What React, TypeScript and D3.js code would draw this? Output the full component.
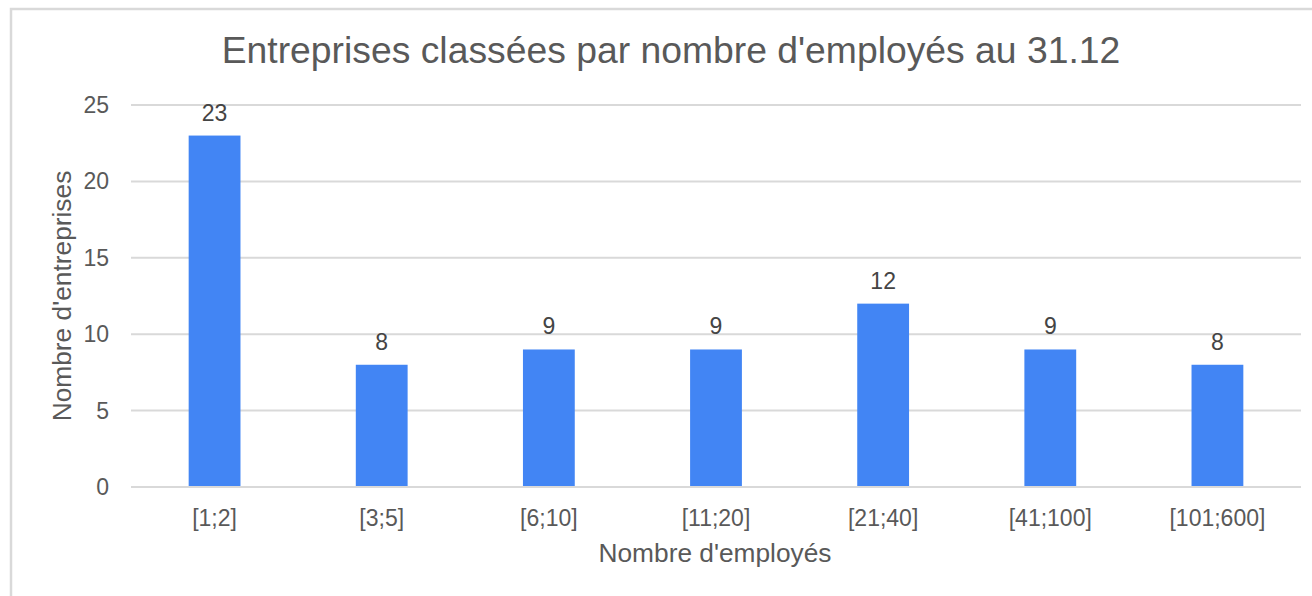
import React from "react";
import * as d3 from "d3";

const categories = ["[1;2]", "[3;5]", "[6;10]", "[11;20]", "[21;40]", "[41;100]", "[101;600]"];
const values = [23, 8, 9, 9, 12, 9, 8];
const yTicks = [0, 5, 10, 15, 20, 25];
const title = "Entreprises classées par nombre d'employés au 31.12";
const xTitle = "Nombre d'employés";
const yTitle = "Nombre d'entreprises";

const W = 1312;
const H = 596;
const plot = { left: 131, right: 1301, top: 105, bottom: 487 };
const font = "'Liberation Sans', Arial, sans-serif";
const textColor = "#595959";
const gridColor = "#d9d9d9";
const barColor = "#4285F4";

export default function App() {
  const x = d3.scaleBand<string>().domain(categories).range([plot.left, plot.right]).padding(0);
  const y = d3.scaleLinear().domain([0, 25]).range([plot.bottom, plot.top]);
  const barW = x.bandwidth() * 0.31;
  const cy = (plot.top + plot.bottom) / 2;

  return (
    <svg width={W} height={H} style={{ position: "absolute", left: 0, top: 0, background: "#fff" }} fontFamily={font}>
      <rect x={11} y={9} width={W + 20} height={H + 20} fill="#fff" stroke={gridColor} strokeWidth={2.5} />
      <text x={671} y={63} textAnchor="middle" fontSize={37.3} fill={textColor}>{title}</text>
      {yTicks.map((t) => (
        <g key={t}>
          <line x1={plot.left} x2={plot.right} y1={y(t)} y2={y(t)} stroke={gridColor} strokeWidth={2} />
          <text x={109} y={y(t)} dy="0.35em" textAnchor="end" fontSize={23} fill={textColor}>{t}</text>
        </g>
      ))}
      {categories.map((c, i) => {
        const bx = (x(c) as number) + x.bandwidth() / 2;
        return (
          <g key={c}>
            <rect x={bx - barW / 2} y={y(values[i])} width={barW} height={y(0) - y(values[i]) - 1} fill={barColor} />
            <text x={bx} y={y(values[i]) - 15} textAnchor="middle" fontSize={23} fill="#444">{values[i]}</text>
            <text x={bx} y={526} textAnchor="middle" fontSize={23} fill={textColor}>{c}</text>
          </g>
        );
      })}
      <text x={715} y={562} textAnchor="middle" fontSize={26.3} fill={textColor}>{xTitle}</text>
      <text transform={`translate(71,${cy}) rotate(-90)`} textAnchor="middle" fontSize={26.3} fill={textColor}>{yTitle}</text>
    </svg>
  );
}
